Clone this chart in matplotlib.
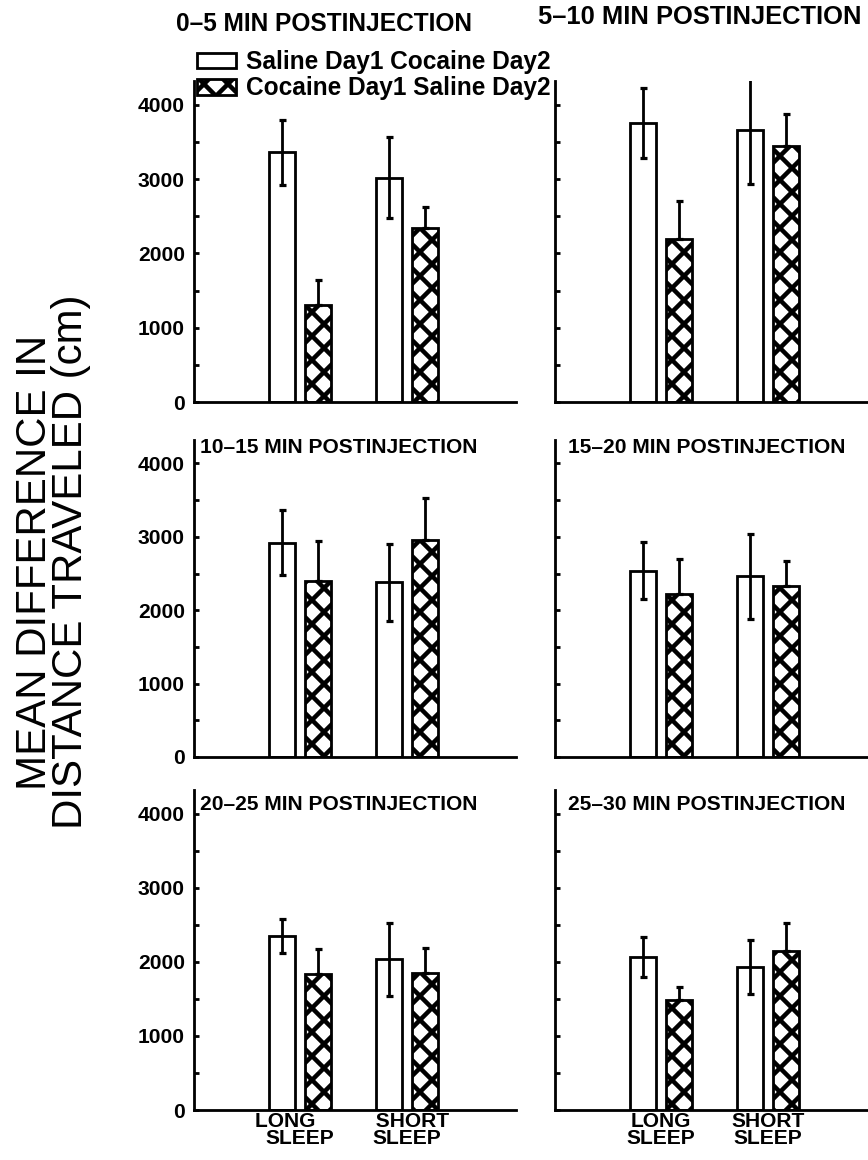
"""
Mean difference in distance traveled, 6 x 5-min bins
LONG SLEEP vs SHORT SLEEP, two injection orders
"""
import numpy as np
import matplotlib.pyplot as plt
from matplotlib.patches import Patch

# figure at 72 dpi: every size below (points) is also a pixel size
plt.rcParams['font.family'] = ['Liberation Sans', 'DejaVu Sans']
plt.rcParams['hatch.linewidth'] = 4.5

# values (cm)
groups = ["LONG\nSLEEP", "SHORT\nSLEEP"]
bottom_left_labels = ["LONG     \nSLEEP", "  SHORT\nSLEEP"]
panel_titles = ["0\u20135 MIN POSTINJECTION", "5\u201310 MIN POSTINJECTION",
                "10\u201315 MIN POSTINJECTION", "15\u201320 MIN POSTINJECTION",
                "20\u201325 MIN POSTINJECTION", "25\u201330 MIN POSTINJECTION"]
legend_labels = ["Saline Day1 Cocaine Day2", "Cocaine Day1 Saline Day2"]

sal_coc_mean = [[3360, 3020], [3750, 3660], [2920, 2380],
                [2540, 2460], [2350, 2035], [2065, 1925]]
sal_coc_err = [[440, 550], [470, 730], [445, 520],
               [385, 580], [230, 490], [270, 365]]
coc_sal_mean = [[1310, 2340], [2200, 3440], [2400, 2960],
                [2215, 2335], [1835, 1845], [1490, 2150]]
coc_sal_err = [[330, 280], [510, 430], [545, 575],
               [480, 340], [345, 340], [170, 380]]

yticks = [0, 1000, 2000, 3000, 4000]

W, H = 868, 1160
DPI = 72
fig = plt.figure(figsize=(W / DPI, H / DPI), dpi=DPI)

# axes boxes in pixels: (left, bottom_y, top_y)
col_left = [194, 555]
rows = [(402, 81), (757, 440), (1110, 790)]
ax_w = 322

x = np.arange(1, 3)
bw = 0.243
off = 0.168
lw = 2.8
bold = dict(fontweight='bold')
narrow = ['Liberation Sans Narrow', 'Liberation Sans']

for i in range(6):
    r, c = divmod(i, 2)
    yb, yt = rows[r]
    ax = fig.add_axes([col_left[c] / W, 1 - yb / H, ax_w / W, (yb - yt) / H])

    ax.bar(x - off, sal_coc_mean[i], bw, color='white', edgecolor='black',
           linewidth=lw, zorder=2)
    ax.bar(x + off, coc_sal_mean[i], bw, facecolor='white', edgecolor='black',
           hatch='x', linewidth=lw, zorder=2)
    ax.errorbar(x - off, sal_coc_mean[i], yerr=sal_coc_err[i], fmt='none',
                ecolor='black', elinewidth=lw, capsize=3.5, capthick=3.2, zorder=3)
    ax.errorbar(x + off, coc_sal_mean[i], yerr=[[0, 0], coc_sal_err[i]], fmt='none',
                ecolor='black', elinewidth=lw, capsize=3.5, capthick=3.2, zorder=3)

    ax.set_xlim(0.01, 3.02)
    ax.set_ylim(0, 4320)
    ax.set_yticks(yticks)
    ax.set_yticks(np.arange(500, 4000, 1000), minor=True)
    ax.tick_params(axis='y', which='both', direction='in', length=5, width=lw)
    ax.tick_params(axis='x', length=0)
    for s in ['top', 'right']:
        ax.spines[s].set_visible(False)
    for s in ['left', 'bottom']:
        ax.spines[s].set_linewidth(lw)

    if c == 0:
        ax.set_yticklabels([str(t) for t in yticks], fontsize=21, **bold)
        ax.tick_params(axis='y', pad=9)
    else:
        ax.set_yticklabels([])

    if r == 2:
        ax.set_xticks(x)
        labs = bottom_left_labels if c == 0 else groups
        ax.set_xticklabels(labs, fontsize=21, linespacing=0.85, family=narrow, **bold)
        ax.tick_params(axis='x', pad=2)
    else:
        ax.set_xticks([])

    if r > 0:
        ypos = 0.975 if r == 1 else 0.955
        ax.text(0.02 if c == 0 else 0.04, ypos, panel_titles[i], transform=ax.transAxes,
                ha='left', va='center', fontsize=21, family=narrow, **bold)

# top titles
fig.text(324 / W, 1 - 24 / H, panel_titles[0], ha='center', va='center', fontsize=24.5, **bold)
fig.text(700 / W, 1 - 17 / H, panel_titles[1], ha='center', va='center', fontsize=25.5, **bold)

handles = [Patch(facecolor='white', edgecolor='black', linewidth=lw),
           Patch(facecolor='white', edgecolor='black', hatch='x', linewidth=lw)]
fig.legend(handles, legend_labels, loc='upper left',
           bbox_to_anchor=(197 / W, 1 - 50 / H), frameon=False, borderpad=0,
           borderaxespad=0, handlelength=1.6, handleheight=0.6, handletextpad=0.4,
           labelspacing=0.1, prop=dict(size=24.5, weight='bold'))

fig.text(53 / W, 1 - 562 / H, "MEAN DIFFERENCE IN\nDISTANCE TRAVELED (cm)",
         rotation=90, ha='center', va='center', fontsize=42, linespacing=0.85,
         multialignment='center')

fig.savefig("out.png", dpi=DPI)
plt.close()
